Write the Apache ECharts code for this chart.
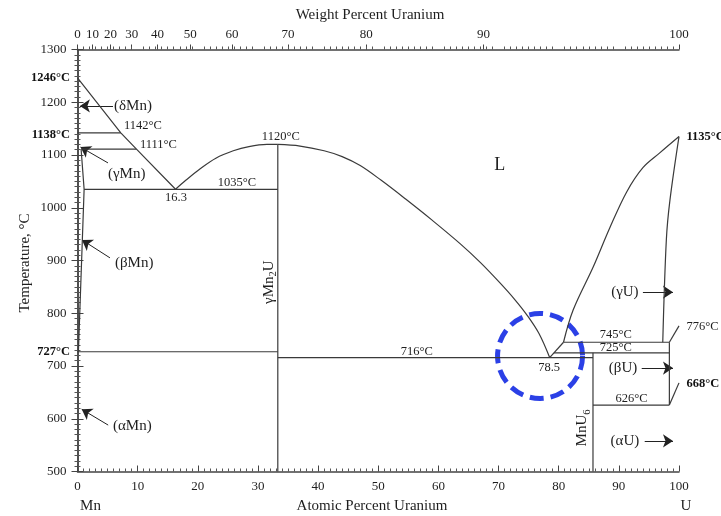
<!DOCTYPE html>
<html><head><meta charset="utf-8">
<script src="https://cdn.jsdelivr.net/npm/echarts@6/dist/echarts.min.js"></script>
<style>html,body{margin:0;padding:0;background:#fff}#c{width:721px;height:516px}</style>
</head><body><div id="c"></div>
<script>
const FONT = '"Liberation Serif", "DejaVu Serif", serif';
const LC = '#3a3a3a';
const TC = '#1e1e1e';

// ---- axes ----
const weightLabels = ['0','10','20','30','40','50','60','70','80','90','100'];
const weightTickAtomic = [0, 2.5, 5.5, 9.0, 13.3, 18.75, 25.7, 35.0, 48.0, 67.5, 100];

// ---- phase boundary lines (atomic % U, temperature °C) ----
const mnLiquidus   = [[0,1246],[7.2,1142],[9.8,1111],[16.3,1035]];
const line1142     = [[0,1142],[7.2,1142]];
const line1111     = [[0.6,1111],[9.8,1111]];
const betaMnSolvus = [[0.6,1111],[1.1,1035],[0.15,727]];
const line1035     = [[1.1,1035],[33.3,1035]];
const line727      = [[0,727],[33.3,727]];
const mn2uLine     = [[33.3,500],[33.3,1120]];
const liqLeftDome  = [[16.3,1035],[18,1052],[20.4,1074],[23,1094],[25.9,1108],[28.5,1116],[31.5,1120],[33.3,1120]];
const liqRightDome = [[33.3,1120],[37,1117],[41,1108],[44,1097],[47,1080],[50.5,1052],[54.5,1017],[59,976],[63.6,932],[67,896],[70.2,858],[72.7,826],[74.7,797],[76.7,762],[78.5,716]];
const liqUSegment  = [[78.5,716],[80.8,745]];
const liqU         = [[80.8,745],[82.4,806],[85.75,888],[88.5,962],[91.3,1030],[94,1076],[96.8,1104],[100,1135]];
const gammaUSolvus = [[100,1135],[98.5,1015],[97.9,940],[97.3,745]];
const line745      = [[80.8,745],[98.4,745]];
const line776      = [[98.4,745],[100,776]];
const line725      = [[79.2,725],[98.4,725]];
const line716      = [[33.3,716],[85.7,716]];
const mnU6Line     = [[85.7,500],[85.7,725]];
const line626      = [[85.7,626],[98.4,626]];
const betaUVert    = [[98.4,745],[98.4,626]];
const line668      = [[98.4,626],[100,668]];

const smoothLines = [liqLeftDome, liqRightDome, liqU, gammaUSolvus];
const straightLines = [mnLiquidus, line1142, line1111, betaMnSolvus, line1035, line727, mn2uLine,
  liqUSegment, line745, line776, line725, line716, mnU6Line, line626, betaUVert, line668];

// ---- arrows (from, to) ----
const arrowFrom = [[5.9,1193],[5.07,1085],[5.4,905],[5.1,588],[94.0,840],[93.8,696],[94.3,558]];
const arrowTo   = [[0.4,1193],[0.5,1115],[0.75,939],[0.7,618],[99.0,840],[99.0,696],[99.0,558]];

// ---- labels ----
const labelText  = ['(δMn)','1142°C','1111°C','(γMn)','16.3','1035°C','1120°C','L','(βMn)','(αMn)',
  '716°C','78.5','745°C','725°C','(γU)','(βU)','(αU)','626°C','776°C'];
const labelPos   = [[6.07,1193],[7.73,1155],[10.39,1119],[5.07,1064],[16.38,1019],[26.5,1048],[33.8,1134],[70.2,1081],[6.23,895],[5.9,587],
  [56.4,727],[78.4,697],[89.5,759],[89.5,735],[91.0,841],[90.7,696],[91.0,558],[92.1,637.5],[101.25,775]];
const labelAlign = ['left','left','left','left','center','center','center','center','left','left',
  'center','center','center','center','center','center','center','center','left'];
const labelSize  = [15,12.5,12.5,15,12.5,12.5,12.5,18,15,15,12.5,12.5,12.5,12.5,15,15,15,12.5,12.5];

const boldText  = ['1246°C','1138°C','727°C','1135°C','668°C'];
const boldPos   = [[-1.25,1246],[-1.25,1138],[-1.25,727],[101.25,1135],[101.25,667]];
const boldAlign = ['right','right','right','left','left'];

const circleCenter = [76.9, 719];

const chart = echarts.init(document.getElementById('c'), null, {renderer:'canvas'});

const series = [];
straightLines.forEach(d => series.push({type:'line', data:d, symbol:'none', silent:true, animation:false,
  lineStyle:{color:LC, width:1.2}}));
smoothLines.forEach(d => series.push({type:'line', data:d, smooth:0.35, symbol:'none', silent:true, animation:false,
  lineStyle:{color:LC, width:1.2}}));
series.push({type:'lines', coordinateSystem:'cartesian2d', silent:true, animation:false,
  symbol:['none','arrow'], symbolSize:[0,10],
  lineStyle:{color:'#222', width:1, opacity:1},
  data: arrowFrom.map((f,i)=>({coords:[f, arrowTo[i]]}))});

const axisLine = {show:true, lineStyle:{color:'#444', width:1.5}};
const lbl = {fontFamily:FONT, fontSize:13, color:TC};
const plain = v => String(v);

chart.setOption({
  animation:false,
  grid:{left:77.5, right:42, top:49.5, bottom:44.5, containLabel:false},
  xAxis:[
    {type:'value', position:'bottom', min:0, max:100, interval:10,
     axisLine, splitLine:{show:false},
     axisTick:{inside:true, length:6, lineStyle:{color:'#444'}},
     minorTick:{show:true, splitNumber:10, length:3, lineStyle:{color:'#555'}},
     axisLabel:Object.assign({margin:9, formatter:plain}, lbl)},
    {type:'value', position:'top', min:0, max:100, interval:10,
     axisLine, splitLine:{show:false},
     axisTick:{show:true, inside:false, length:5, customValues:weightTickAtomic, lineStyle:{color:'#444'}},
     minorTick:{show:true, splitNumber:10, length:3, lineStyle:{color:'#555'}},
     axisLabel:Object.assign({margin:8, customValues:weightTickAtomic,
       formatter:(v)=>{ for (let i=0;i<weightTickAtomic.length;i++) if (Math.abs(v-weightTickAtomic[i])<1e-6) return weightLabels[i]; return ''; }}, lbl)}
  ],
  yAxis:[
    {type:'value', position:'left', min:500, max:1300, interval:100,
     axisLine, splitLine:{show:false},
     axisTick:{inside:false, length:6, lineStyle:{color:'#444'}},
     minorTick:{show:true, splitNumber:10, length:3, lineStyle:{color:'#555'}},
     axisLabel:Object.assign({margin:11, formatter:plain}, lbl)},
    {type:'value', position:'right', min:500, max:1300, interval:100,
     axisLine, splitLine:{show:false},
     axisTick:{inside:false, length:6, lineStyle:{color:'#444'}},
     minorTick:{show:true, splitNumber:10, length:3, lineStyle:{color:'#555'}},
     axisLabel:{show:false}}
  ],
  series
});

function px(p){ return chart.convertToPixel({xAxisIndex:0, yAxisIndex:0}, p); }
const g = [];
labelText.forEach((t,i)=>{
  const p = px(labelPos[i]);
  g.push({type:'text', x:p[0], y:p[1], silent:true, style:{text:t, fill:TC,
    font: labelSize[i]+'px '+FONT, align:labelAlign[i], verticalAlign:'middle'}});
});
boldText.forEach((t,i)=>{
  const p = px(boldPos[i]);
  g.push({type:'text', x:p[0], y:p[1], silent:true, style:{text:t, fill:'#111',
    font: 'bold 12.5px '+FONT, align:boldAlign[i], verticalAlign:'middle'}});
});

const mctx = document.createElement('canvas').getContext('2d');
function mw(t, size){ mctx.font = size+'px '+FONT; return mctx.measureText(t).width; }
function subLabel(parts, center, size){
  let total = 0; const ws = parts.map(pt=>{ const w = mw(pt[0], pt[1]?size*0.7:size); total+=w; return w; });
  let x = -total/2; const children = [];
  parts.forEach((pt,i)=>{
    children.push({type:'text', x:x, y: pt[1]? size*0.32 : 0, silent:true,
      style:{text:pt[0], fill:TC, font:(pt[1]?size*0.7:size)+'px '+FONT, align:'left', verticalAlign:'middle'}});
    x += ws[i];
  });
  return {type:'group', x:center[0], y:center[1], rotation:Math.PI/2, silent:true, children};
}
g.push(subLabel([['γMn',0],['2',1],['U',0]], px([31.8,859]), 15));
g.push(subLabel([['MnU',0],['6',1]], px([83.9,582.5]), 15));

const cc = px(circleCenter);
g.push({type:'circle', shape:{cx:cc[0], cy:cc[1], r:42.5}, silent:true,
  style:{fill:'none', stroke:'#2b40e6', lineWidth:5, lineDash:[14,7]}});

g.push({type:'text', x:370, y:15, style:{text:'Weight Percent Uranium', fill:TC, font:'15px '+FONT, align:'center', verticalAlign:'middle'}});
g.push({type:'text', x:372, y:506, style:{text:'Atomic Percent Uranium', fill:TC, font:'15px '+FONT, align:'center', verticalAlign:'middle'}});
g.push({type:'text', x:25, y:263, rotation:Math.PI/2, style:{text:'Temperature, °C', fill:TC, font:'15px '+FONT, align:'center', verticalAlign:'middle'}});
g.push({type:'text', x:90.5, y:506, style:{text:'Mn', fill:TC, font:'15px '+FONT, align:'center', verticalAlign:'middle'}});
g.push({type:'text', x:686, y:506, style:{text:'U', fill:TC, font:'15px '+FONT, align:'center', verticalAlign:'middle'}});

chart.setOption({graphic:{elements:g}});
</script>
</body></html>
